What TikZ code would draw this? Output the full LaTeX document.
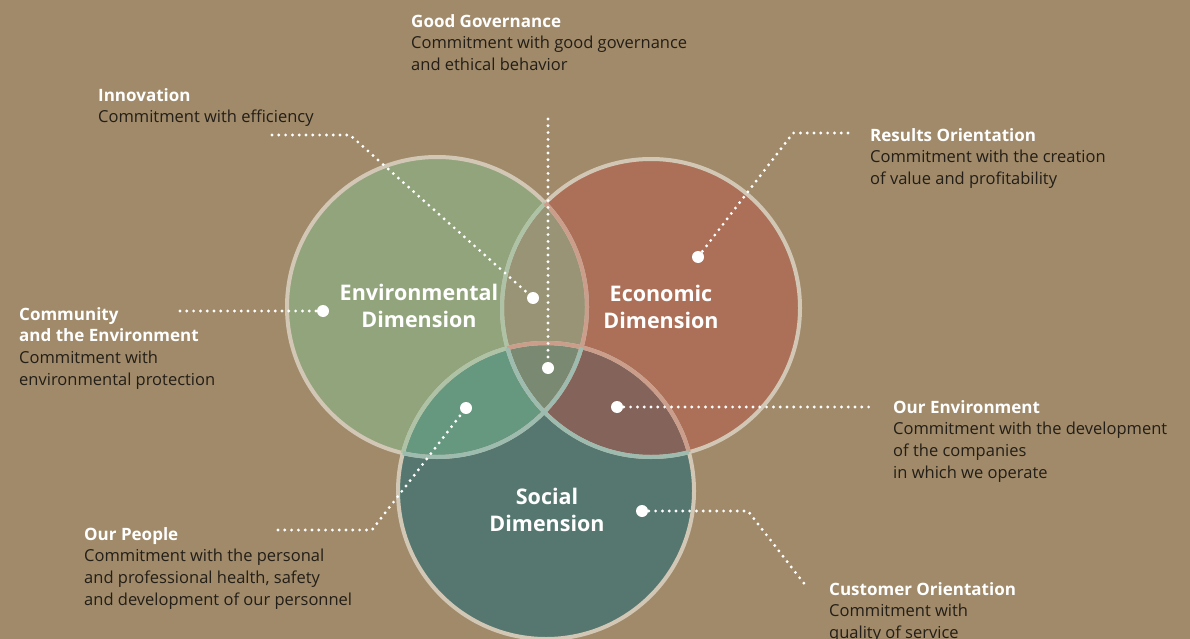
\documentclass[tikz,border=0pt]{standalone}
\usepackage{fontspec}
\setmainfont{Open Sans}
\definecolor{bgc}{HTML}{A08A6A}
\definecolor{envc}{HTML}{92A47C}
\definecolor{ecoc}{HTML}{AC7058}
\definecolor{socc}{HTML}{55776F}
\definecolor{envecoc}{HTML}{989475}
\definecolor{envsocc}{HTML}{66977F}
\definecolor{ecosocc}{HTML}{84635A}
\definecolor{allc}{HTML}{7A8A72}
\definecolor{ringc}{HTML}{D2C7B5}
\definecolor{ringenv}{HTML}{AEC3A5}
\definecolor{ringeco}{HTML}{CB9E8C}
\definecolor{ringsoc}{HTML}{9DBBAE}
\definecolor{txt}{HTML}{231E17}
\tikzset{
 dotline/.style={draw=white, line width=3.2pt, line cap=round, dash pattern=on 0pt off 6.8pt},
 pin/.style={circle, fill=white, minimum size=12pt, inner sep=0pt},
 lab/.style={anchor=north west, inner sep=0pt, align=left, text=txt, font=\fontsize{16.5}{21.7}\selectfont},
 dimlab/.style={align=center, text=white, inner sep=0pt, font=\bfseries\fontsize{21.5}{27.5}\selectfont},
 ring/.style={line width=4pt}
}
\newcommand{\hd}[1]{\textcolor{white}{\bfseries\fontsize{17}{21.7}\selectfont #1}}
\begin{document}
\begin{tikzpicture}[x=1pt,y=-1pt]
\useasboundingbox (0,0) rectangle (1190,639);
\fill[bgc] (0,0) rectangle (1190,639);
% circle fills
\fill[envc] (437,307) circle[radius=150pt];
\fill[ecoc] (651,308) circle[radius=149pt];
\fill[socc] (546,491) circle[radius=148pt];
\begin{scope}
 \clip (437,307) circle[radius=150pt];
 \fill[envecoc] (651,308) circle[radius=149pt];
 \fill[envsocc] (546,491) circle[radius=148pt];
\end{scope}
\begin{scope}
 \clip (651,308) circle[radius=149pt];
 \fill[ecosocc] (546,491) circle[radius=148pt];
 \clip (546,491) circle[radius=148pt];
 \fill[allc] (437,307) circle[radius=150pt];
\end{scope}
% rings
\draw[ringc, ring] (437,307) circle[radius=150pt];
\draw[ringc, ring] (651,308) circle[radius=149pt];
\draw[ringc, ring] (546,491) circle[radius=148pt];
\begin{scope}
 \clip (437,307) circle[radius=150pt];
 \draw[ringenv, ring] (651,308) circle[radius=149pt];
 \draw[ringenv, ring] (546,491) circle[radius=148pt];
\end{scope}
\begin{scope}
 \clip (651,308) circle[radius=149pt];
 \draw[ringeco, ring] (437,307) circle[radius=150pt];
 \draw[ringeco, ring] (546,491) circle[radius=148pt];
\end{scope}
\begin{scope}
 \clip (546,491) circle[radius=148pt];
 \draw[ringsoc, ring] (437,307) circle[radius=150pt];
 \draw[ringsoc, ring] (651,308) circle[radius=149pt];
\end{scope}
% dimension labels
\node[dimlab] (envlab) at (419,306) {Environmental\\Dimension};
\node[dimlab] (ecolab) at (661,307) {Economic\\Dimension};
\node[dimlab] (soclab) at (547,510) {Social\\Dimension};
% pins
\node[pin] (pInn) at (533,298) {};
\node[pin] (pGov) at (548,368) {};
\node[pin] (pCom) at (323,311) {};
\node[pin] (pPeo) at (466,408) {};
\node[pin] (pOEnv) at (617,407) {};
\node[pin] (pRes) at (698,257) {};
\node[pin] (pCus) at (642,511) {};
% corner coordinates
\coordinate (cInnA) at (272,135);
\coordinate (cInnB) at (350,135);
\coordinate (cGov) at (548,119);
\coordinate (cResA) at (848,133);
\coordinate (cResB) at (793,133);
\coordinate (cCom) at (180,311);
\coordinate (cPeoA) at (278,530);
\coordinate (cPeoB) at (372,530);
\coordinate (cOEnv) at (872,407);
\coordinate (cCusA) at (748,511);
\coordinate (cCusB) at (806,586);
% connectors
\draw[dotline] (cInnA) -- (cInnB) -- (pInn.center);
\draw[dotline] (cGov) -- (pGov.center);
\draw[dotline] (cResA) -- (cResB) -- (pRes.center);
\draw[dotline] (cCom) -- (pCom.center);
\draw[dotline] (cPeoA) -- (cPeoB) -- (pPeo.center);
\draw[dotline] (pOEnv.center) -- (cOEnv);
\draw[dotline] (pCus.center) -- (cCusA) -- (cCusB);
% text labels
\node[lab] (tGov) at (411,14) {\hd{Good Governance}\\Commitment with good governance\\and ethical behavior};
\node[lab] (tInn) at (98,88) {\hd{Innovation}\\Commitment with efficiency};
\node[lab] (tRes) at (870,128) {\hd{Results Orientation}\\Commitment with the creation\\of value and profitability};
\node[lab] (tCom) at (19,307) {\hd{Community}\\\hd{and the Environment}\\Commitment with\\environmental protection};
\node[lab] (tOEnv) at (893,400) {\hd{Our Environment}\\Commitment with the development\\of the companies\\in which we operate};
\node[lab] (tPeo) at (84,527) {\hd{Our People}\\Commitment with the personal\\and professional health, safety\\and development of our personnel};
\node[lab] (tCus) at (829,582) {\hd{Customer Orientation}\\Commitment with\\quality of service};
\end{tikzpicture}
\end{document}
